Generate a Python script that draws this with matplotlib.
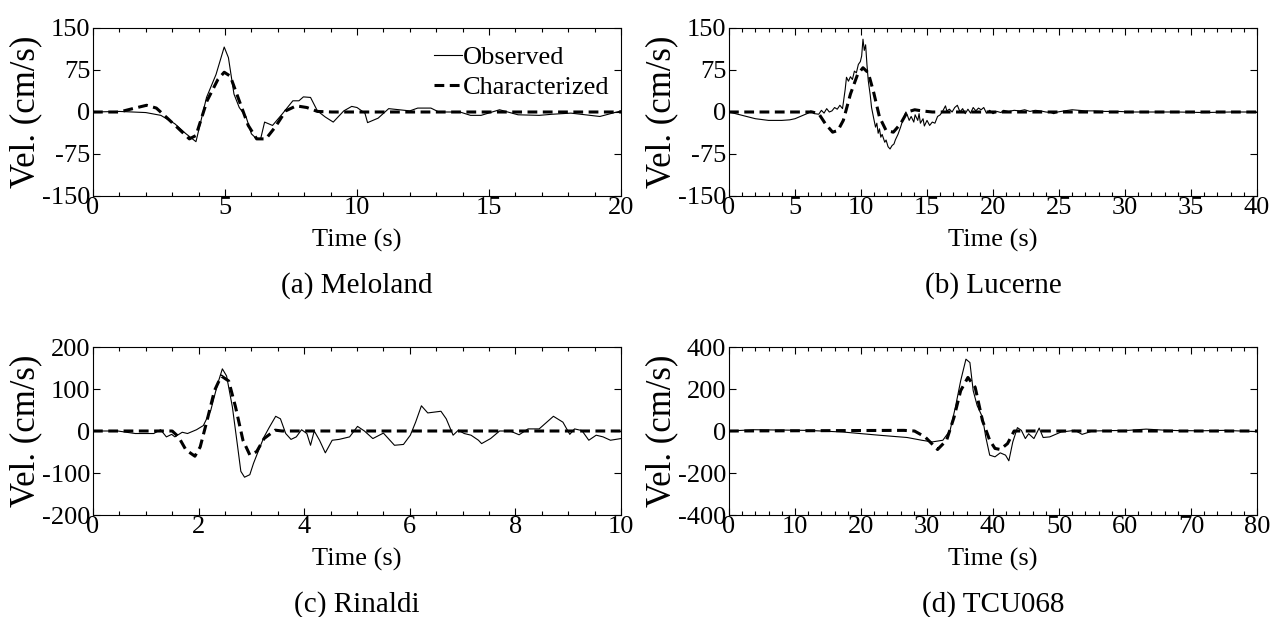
import numpy as np
import matplotlib.pyplot as plt
from matplotlib.ticker import MultipleLocator

plt.rcParams['font.family'] = ['Liberation Serif', 'DejaVu Serif']
plt.rcParams['font.size'] = 19
plt.rcParams['axes.unicode_minus'] = False

# (a) Meloland
a_obs_t = [0, 1, 2.0, 2.57, 3.1, 3.5, 3.9, 4.3, 4.66, 4.97, 5.13, 5.34, 5.54, 5.8, 6.0, 6.2,
           6.35, 6.5, 6.6, 6.8, 7.16, 7.57, 7.8, 7.97, 8.24, 8.5, 8.8, 9.1, 9.5, 9.8, 10.0,
           10.3, 10.4, 10.8, 11.2, 11.6, 12.0, 12.3, 12.8, 13.1, 13.9, 14.3, 14.7, 15.4,
           16.1, 16.9, 17.4, 18.1, 19.2, 20]
a_obs_v = [0, 1, -1, -6, -21, -38, -53, 26, 67, 116, 97, 32, 8, -9, -39, -48,
           -48, -18, -20, -24, -4, 20, 20, 27, 26, 2, -9, -18, 2, 10, 8,
           -2, -19, -11, 6, 4, 2, 7, 7, 0, 0, -6, -6, 4,
           -5, -6, -4, -2, -8, 2]
a_chr_t = [0, 1.0, 1.5, 2.03, 2.4, 2.77, 3.18, 3.65, 3.9, 4.32, 4.73, 4.97, 5.2, 5.54, 5.88,
           6.2, 6.55, 6.9, 7.3, 7.7, 8.1, 8.5, 9.05, 20]
a_chr_v = [0, 0, 6, 12, 7, -9, -27, -48, -42, 20, 58, 71, 64, 20, -24,
           -48, -48, -27, 2, 11, 8, 1, 0, 0]

# (b) Lucerne
b_obs_t = [0, 1, 2, 3, 4, 4.6, 5, 5.4, 5.7, 6.0, 6.2, 6.5, 6.8, 7.0, 7.2, 7.4, 7.6, 7.8,
           8.0, 8.2, 8.4, 8.6, 8.8, 8.9, 9.05, 9.2, 9.35, 9.5, 9.65, 9.8, 9.95, 10.05,
           10.15, 10.25, 10.35, 10.45, 10.55, 10.7, 10.8, 10.95, 11.1, 11.2, 11.3, 11.4,
           11.5, 11.6, 11.8, 11.9, 12.05, 12.2, 12.35, 12.5, 12.6, 12.8, 13.0, 13.2, 13.4,
           13.5, 13.65, 13.8, 14.0, 14.1, 14.3, 14.4, 14.5, 14.7, 14.8, 15.0, 15.2, 15.4,
           15.6, 15.8, 16.0, 16.2, 16.4, 16.5, 16.7, 16.9, 17.1, 17.3, 17.5, 17.7, 17.9,
           18.1, 18.3, 18.5, 18.7, 18.9, 19.1, 19.3, 19.5, 19.75, 20.0, 20.3, 20.6, 20.8,
           21.2, 21.6, 22.0, 22.4, 22.8, 23.2, 23.6, 24.0, 24.4, 24.6, 24.9, 25.4, 26.0,
           26.5, 27.0, 27.6, 28.5, 29.5, 30.5, 32, 34, 36, 38, 40]
b_obs_v = [0, -6, -12, -15, -15, -14, -12, -8, -5, -2, 2, -3, -4, 3, -2, 6, 0, 2,
           8, 5, 12, 6, 40, 62, 55, 63, 58, 73, 70, 85, 90, 100,
           130, 110, 120, 85, 56, 30, 8, -10, -27, -20, -38, -30,
           -45, -40, -54, -50, -62, -66, -60, -57, -50, -40, -27, -12, 0,
           -5, -15, -8, -18, -5, -15, -3, -20, -12, -25, -15, -24, -18,
           -20, -8, -5, 2, 11, 2, 5, 0, 8, 12, 0, 6, -3,
           5, -2, 8, 2, 7, 4, 8, -2, 3, -3, 1, -1, 3,
           1, 3, 2, 4, 1, 3, 2, 0, -1, -3, 0, 2, 4,
           3, 2, 2, 1, 1, 0, 0, 0, -1, 0, 0]
b_chr_t = [0, 6.3, 6.8, 7.3, 7.85, 8.25, 8.66, 9.2, 9.74, 10.15, 10.55, 10.96, 11.4, 11.9,
           12.45, 13.0, 13.5, 14.07, 14.6, 15.4, 40]
b_chr_v = [0, 0, -3, -21, -36, -33, -15, 32, 67, 79, 70, 35, -9, -33,
           -36, -21, 0, 4, 2, 0, 0]

# (c) Rinaldi
c_obs_t = [0, 0.47, 0.8, 1.15, 1.28, 1.39, 1.49, 1.55, 1.69, 1.79, 1.96, 2.09, 2.23, 2.36,
           2.45, 2.53, 2.64, 2.74, 2.8, 2.87, 2.97, 3.04, 3.14, 3.24, 3.34, 3.46, 3.55,
           3.65, 3.75, 3.85, 3.95, 4.05, 4.12, 4.19, 4.29, 4.4, 4.53, 4.66, 4.86, 5.01,
           5.14, 5.3, 5.5, 5.71, 5.88, 6.01, 6.11, 6.22, 6.34, 6.59, 6.69, 6.82, 6.92,
           7.03, 7.16, 7.3, 7.36, 7.53, 7.7, 7.9, 8.07, 8.24, 8.45, 8.72, 8.9, 9.03, 9.12,
           9.26, 9.39, 9.53, 9.66, 9.8, 10]
c_obs_v = [0, 0, -6, -6, 3, -14, -8, -14, -3, -6, 3, 13, 49, 112,
           148, 131, 57, -38, -96, -110, -104, -77, -45, -14, 9, 35, 29,
           -6, -20, -14, 3, -6, -34, 0, -22, -52, -22, -20, -14, 11,
           0, -18, -5, -34, -32, -10, 21, 60, 43, 47, 29, -10, 2,
           -6, -10, -22, -30, -18, 0, 0, -9, 5, 5, 35, 21, -8, 5,
           1, -22, -10, -14, -22, -18]
c_chr_t = [0, 1.5, 1.62, 1.76, 1.93, 2.03, 2.16, 2.3, 2.43, 2.57, 2.7, 2.84, 2.97, 3.1,
           3.24, 3.45, 3.58, 10]
c_chr_v = [0, 0, -14, -45, -60, -38, 25, 96, 131, 119, 57, -22, -57, -49,
           -18, 2, 0, 0]

# (d) TCU068
d_obs_t = [0, 3.8, 11.9, 17.3, 22.7, 27, 29.2, 30.8, 32.4, 33.5, 34.3, 35.1, 35.9, 36.5,
           37, 37.6, 38.4, 38.9, 39.5, 40.3, 41.1, 41.9, 42.4, 43, 43.7, 44.3, 44.9,
           45.4, 46.2, 47, 47.6, 48.6, 50.3, 52.4, 53.5, 55.1, 58, 60.5, 63.2, 65.9,
           68, 71.4, 75, 80]
d_obs_v = [0, 6, 3, -5, -20, -31, -44, -52, -44, 3, 113, 239, 342, 326,
           192, 121, 66, -28, -115, -123, -104, -115, -142, -52, 16, 3, -36,
           -13, -36, 14, -31, -28, -5, 3, -16, 0, 2, 3, 9, 4,
           2, 1, 3, -3]
d_chr_t = [0, 26.5, 28.1, 29.7, 31.6, 32.97, 34.1, 35.1, 36.2, 37.3, 38.4, 39.5, 40.3,
           41.1, 42.2, 43.2, 80]
d_chr_v = [0, 3, 0, -28, -88, -44, 66, 192, 255, 208, 50, -44, -83,
           -88, -60, 0, 0]

panels = [
    (a_obs_t, a_obs_v, a_chr_t, a_chr_v, 20, 5, 1, 150, 75, '(a) Meloland'),
    (b_obs_t, b_obs_v, b_chr_t, b_chr_v, 40, 5, 1, 150, 75, '(b) Lucerne'),
    (c_obs_t, c_obs_v, c_chr_t, c_chr_v, 10, 2, 0.5, 200, 100, '(c) Rinaldi'),
    (d_obs_t, d_obs_v, d_chr_t, d_chr_v, 80, 10, 2, 400, 200, '(d) TCU068'),
]

fig = plt.figure(figsize=(12.82, 6.17), dpi=100)
lefts = [93 / 1282, 729 / 1282, 93 / 1282, 729 / 1282]
bottoms = [1 - 196 / 617, 1 - 196 / 617, 1 - 515 / 617, 1 - 515 / 617]
w = 528 / 1282
h = 168 / 617

for i, (ot, ov, ct, cv, xmax, xmaj, xmin, ymax, ystep, cap) in enumerate(panels):
    ax = fig.add_axes([lefts[i], bottoms[i], w, h])
    ax.plot(ot, ov, color='black', lw=0.8, label='Observed')
    ax.plot(ct, cv, color='black', lw=2.2, ls=(0, (3.2, 1.8)), label='Characterized')
    ax.set_xlim(0, xmax)
    ax.set_ylim(-ymax, ymax)
    ax.xaxis.set_major_locator(MultipleLocator(xmaj))
    ax.xaxis.set_minor_locator(MultipleLocator(xmin))
    ax.yaxis.set_major_locator(MultipleLocator(ystep))
    ax.tick_params(which='both', direction='in', top=True, right=True, labelsize=19)
    ax.tick_params(axis='x', pad=1)
    ax.tick_params(axis='y', pad=2)
    ax.tick_params(which='major', length=5, width=0.8)
    ax.tick_params(which='minor', length=3, width=0.8)
    ax.set_xlabel('Time (s)', fontsize=19, labelpad=7)
    ax.set_ylabel('Vel. (cm/s)', fontsize=25, labelpad=0)
    for s in ax.spines.values():
        s.set_linewidth(0.8)
    cx = lefts[i] + w / 2
    cy = bottoms[i] - 90 / 617
    fig.text(cx, cy, cap, ha='center', va='center', fontsize=21)
    if i == 0:
        ax.legend(loc='upper right', bbox_to_anchor=(0.979, 0.895), frameon=False,
                  fontsize=19, handlelength=1.05, handletextpad=0.05, borderpad=0,
                  borderaxespad=0, labelspacing=0.25)

fig.savefig('out.png', dpi=100)
